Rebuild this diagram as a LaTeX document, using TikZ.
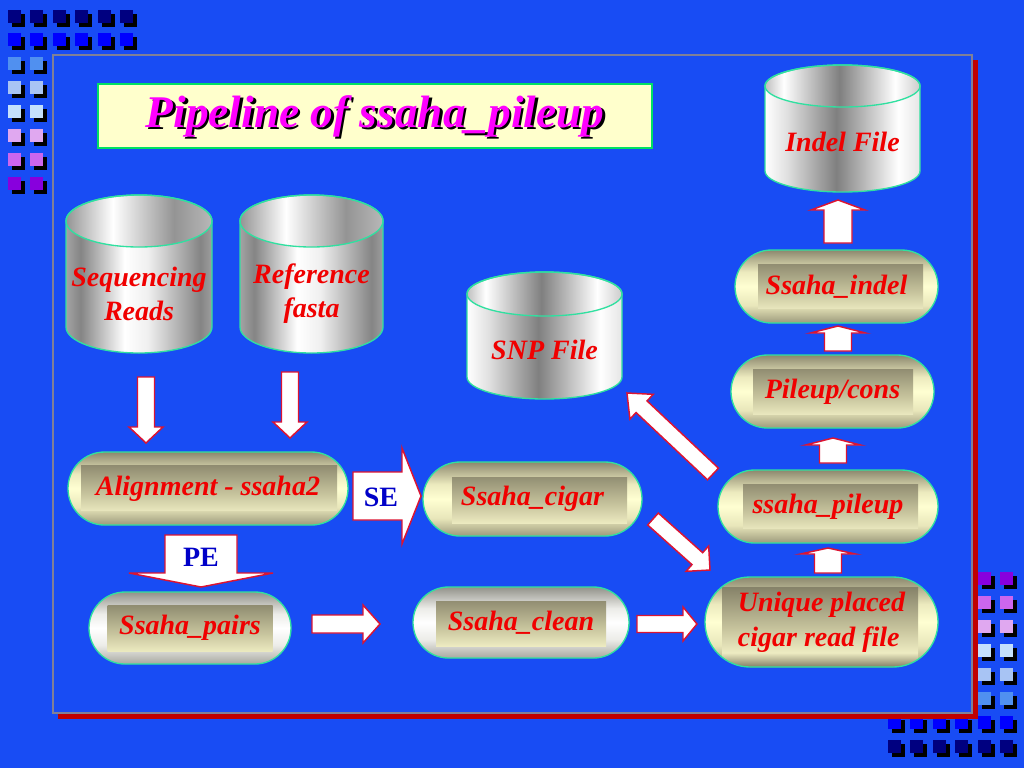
\documentclass[tikz,border=0pt]{standalone}
\usepackage{fontspec}
\setmainfont{Liberation Serif}
\usetikzlibrary{calc,shapes.misc}
\definecolor{bgblue}{RGB}{24,76,244}
\definecolor{panelred}{RGB}{192,0,0}
\definecolor{panelborder}{RGB}{128,128,150}
\definecolor{edgegreen}{RGB}{48,224,160}
\definecolor{titlegreen}{RGB}{0,224,100}
\definecolor{titlefill}{RGB}{255,255,204}
\definecolor{txtred}{RGB}{240,0,0}
\definecolor{txtblue}{RGB}{0,0,200}
\definecolor{titlemag}{RGB}{255,0,255}
\definecolor{arrowred}{RGB}{220,20,50}
\definecolor{sqnavy}{RGB}{0,0,128}
\definecolor{sqblue}{RGB}{0,0,255}
\definecolor{sqa}{RGB}{80,144,240}
\definecolor{sqb}{RGB}{168,196,244}
\definecolor{sqc}{RGB}{196,224,252}
\definecolor{sqd}{RGB}{224,168,240}
\definecolor{sqe}{RGB}{204,102,238}
\definecolor{sqf}{RGB}{136,0,221}
% cylinder colours
\definecolor{cyla0}{gray}{0.64}
\definecolor{cyla1}{gray}{0.52}
\definecolor{cyla2}{gray}{0.62}
\definecolor{cyla3}{gray}{0.94}
\definecolor{cylb1}{gray}{0.88}
\definecolor{cylb2}{gray}{0.50}
\definecolor{cylb3}{gray}{0.90}
\definecolor{cylt1}{gray}{0.58}
\definecolor{cylt2}{gray}{0.58}
\definecolor{cylt3}{gray}{0.72}
\definecolor{cylt4}{gray}{0.75}
\definecolor{cylt5}{gray}{0.80}
% pill colours
\definecolor{poa}{RGB}{156,154,124}
\definecolor{pob}{RGB}{232,230,186}
\definecolor{poc}{RGB}{255,255,210}
\definecolor{pod}{RGB}{236,234,190}
\definecolor{poe}{RGB}{140,136,110}
\definecolor{pga}{RGB}{168,168,160}
\definecolor{pgb}{RGB}{236,236,232}
\definecolor{pge}{RGB}{146,146,138}
\definecolor{pia}{RGB}{130,126,102}
\definecolor{pib}{RGB}{238,236,194}
\definecolor{pic}{RGB}{200,197,158}
\definecolor{pid}{RGB}{118,114,92}
\pgfdeclarehorizontalshading{cylA}{100bp}{color(0bp)=(cyla0); color(25bp)=(cyla0); color(30bp)=(cyla1); color(45bp)=(white); color(53bp)=(cyla3); color(71bp)=(cyla1); color(75bp)=(cyla2); color(100bp)=(cyla2)}
\pgfdeclarehorizontalshading{cyltopA}{100bp}{color(0bp)=(cylt1); color(25bp)=(cylt1); color(41bp)=(white); color(62bp)=(cylt2); color(75bp)=(cylt3); color(100bp)=(cylt3)}
\pgfdeclarehorizontalshading{cylB}{100bp}{color(0bp)=(white); color(25bp)=(white); color(32bp)=(cylb1); color(48bp)=(cylb2); color(68bp)=(white); color(75bp)=(cylb3); color(100bp)=(cylb3)}
\pgfdeclarehorizontalshading{cyltopB}{100bp}{color(0bp)=(cylt4); color(25bp)=(cylt4); color(31bp)=(white); color(49bp)=(cylb2); color(67bp)=(white); color(75bp)=(cylt5); color(100bp)=(cylt5)}
\pgfdeclareverticalshading{pilloutC}{100bp}{color(0bp)=(poa); color(25bp)=(poa); color(37bp)=(pob); color(50bp)=(poc); color(60bp)=(pod); color(75bp)=(poe); color(100bp)=(poe)}
\pgfdeclareverticalshading{pilloutG}{100bp}{color(0bp)=(pga); color(25bp)=(pga); color(38bp)=(pgb); color(50bp)=(white); color(60bp)=(pgb); color(75bp)=(pge); color(100bp)=(pge)}
\pgfdeclareverticalshading{pillin}{100bp}{color(0bp)=(pia); color(25bp)=(pia); color(33bp)=(pib); color(46bp)=(pic); color(75bp)=(pid); color(100bp)=(pid)}

\newcommand\sqbox[3]{%
  \fill[black] ({#1+4},{-(#2)-4}) rectangle ++(13,-13);
  \fill[#3] ({#1},{-(#2)}) rectangle ++(13,-13);}

% name, cx, top-ellipse y, bottom-ellipse y, rx, ry, shading letter, text y, text
\newcommand\cyl[9]{%
  \shade[shading=cyl#7] (#2-#5,-#3) -- (#2-#5,-#4)
     arc[start angle=180,end angle=360,x radius=#5,y radius=#6] -- (#2+#5,-#3)
     arc[start angle=0,end angle=180,x radius=#5,y radius=#6] -- cycle;
  \shade[shading=cyltop#7] (#2,-#3) ellipse[x radius=#5,y radius=#6];
  \draw[cyledge] (#2-#5,-#3) -- (#2-#5,-#4)
     arc[start angle=180,end angle=360,x radius=#5,y radius=#6] -- (#2+#5,-#3)
     arc[start angle=0,end angle=180,x radius=#5,y radius=#6] -- cycle;
  \draw[cyledge] (#2,-#3) ellipse[x radius=#5,y radius=#6];
  \node[cyltext] (#1) at (#2,-#8) {#9};}

% from, to, shaft half width, head half width, head length (px)
\newcommand\barrow[5]{%
  \coordinate (bh) at ($(#2)!{#5*0.75pt}!(#1)$);
  \draw[blockarrow] ($(#1)!{#3*0.75pt}!90:(#2)$) -- ($(bh)!{#3*0.75pt}!90:(#2)$)
     -- ($(bh)!{#4*0.75pt}!90:(#2)$) -- (#2) -- ($(bh)!{#4*0.75pt}!-90:(#2)$)
     -- ($(bh)!{#3*0.75pt}!-90:(#2)$) -- ($(#1)!{#3*0.75pt}!-90:(#2)$) -- cycle;}

\tikzset{
  cyledge/.style={draw=edgegreen, line width=1pt},
  redtext/.style={text=txtred, font=\fontsize{21}{25.5}\selectfont\bfseries\itshape},
  cyltext/.style={redtext, align=center, inner sep=0pt},
  pillC/.style={rounded rectangle, draw=edgegreen, line width=1pt, shade, shading=pilloutC,
     inner sep=0pt, redtext, align=left},
  pillG/.style={pillC, shading=pilloutG},
  innerbar/.style n args={4}{path picture={\shade[shading=pillin]
     ($(path picture bounding box.center)+({(#3)-(#1)/2},{-(#4)-(#2)/2})$) rectangle ++(#1,#2);}},
  blockarrow/.style={fill=white, draw=arrowred, line width=1.1pt, line join=miter},
  bluelabel/.style={text=txtblue, font=\fontsize{21}{25}\selectfont\bfseries, inner sep=0pt},
  titlebox/.style={fill=titlefill, draw=titlegreen, line width=2.2pt, minimum width=415.5pt, minimum height=48pt},
  titletext/.style={font=\fontsize{34}{40}\selectfont\bfseries\itshape, inner sep=0pt},
}

\begin{document}
\begin{tikzpicture}[x=0.75pt,y=0.75pt]
\useasboundingbox (0,0) rectangle (1024,-768);
\fill[bgblue] (0,0) rectangle (1024,-768);

% decorative squares, top left
\foreach \i in {0,...,5} {\sqbox{8+22.4*\i}{10}{sqnavy}}
\foreach \i in {0,...,5} {\sqbox{8+22.4*\i}{33}{sqblue}}
\foreach \y/\c in {57/sqa,81/sqb,105/sqc,129/sqd,153/sqe,177/sqf} {
  \sqbox{8}{\y}{\c}\sqbox{30.4}{\y}{\c}}
% decorative squares, bottom right
\foreach \y/\c in {572/sqf,596/sqe,620/sqd,644/sqc,668/sqb,692/sqa} {
  \sqbox{978}{\y}{\c}\sqbox{1000.4}{\y}{\c}}
\foreach \i in {0,...,5} {\sqbox{888+22.4*\i}{716}{sqblue}}
\foreach \i in {0,...,5} {\sqbox{888+22.4*\i}{740}{sqnavy}}

% panel
\fill[panelred] (58,-60) rectangle (978,-719);
\fill[bgblue] (53,-55) rectangle (972,-713);
\draw[panelborder, line width=1.2pt] (53,-55) rectangle (972,-713);

% title
\node[titlebox] (titlebox) at (375,-116) {};
\node[titletext, text=black] (titleshadow) at (377.5,-118.5) {Pipeline of ssaha\_pileup};
\node[titletext, text=titlemag] (title) at (375,-116) {Pipeline of ssaha\_pileup};

% cylinders
\cyl{seq}{139}{221}{327}{73}{26}{A}{294}{Sequencing\\Reads}
\cyl{ref}{311.5}{221}{327}{71.5}{26}{A}{294}{Reference\\fasta}
\cyl{snp}{544.5}{294}{377}{77.5}{22}{B}{350}{SNP File}
\cyl{indelfile}{842.5}{86}{171}{77.5}{21}{B}{142}{Indel File}

% process pills
\node[pillC, minimum width=210pt, minimum height=54.75pt, innerbar={256}{45}{1}{-1}] (align) at (208,-488.5) {Alignment - ssaha2};
\node[pillG, minimum width=151.5pt, minimum height=54pt, innerbar={165}{46}{0}{0}] (pairs) at (190,-628) {Ssaha\_pairs};
\node[pillC, minimum width=164.25pt, minimum height=55.5pt, innerbar={175}{46}{7}{1}] (cigar) at (532.5,-499) {Ssaha\_cigar};
\node[pillG, minimum width=162pt, minimum height=53.25pt, innerbar={170}{45}{0}{1}] (clean) at (521,-622.5) {Ssaha\_clean};
\node[pillC, minimum width=174.75pt, minimum height=67.5pt, innerbar={196}{80}{-1.5}{5}, font=\fontsize{21}{26.25}\selectfont\bfseries\itshape] (unique) at (821.5,-622) {Unique placed\\cigar read file};
\node[pillC, minimum width=165pt, minimum height=54.75pt, innerbar={175}{44}{2.5}{-0.5}] (pileup) at (828,-506.5) {ssaha\_pileup};
\node[pillC, minimum width=152.25pt, minimum height=54.75pt, innerbar={160}{45}{0.5}{0}] (cons) at (832.5,-391.5) {Pileup/cons};
\node[pillC, minimum width=152.25pt, minimum height=54.75pt, innerbar={165}{44}{4}{-0.5}] (indel) at (836.5,-286.5) {Ssaha\_indel};

% connector end points
\coordinate (seqA) at (146,-377);   \coordinate (seqB) at (146,-443);
\coordinate (refA) at (290,-372);   \coordinate (refB) at (290,-438);
\coordinate (seA) at (353,-496);    \coordinate (seB) at (421,-496);
\coordinate (peA) at (201,-535);    \coordinate (peB) at (201,-587);
\coordinate (paA) at (312,-624);    \coordinate (paB) at (380,-624);
\coordinate (clA) at (637,-624);    \coordinate (clB) at (697,-624);
\coordinate (ciA) at (653,-519);    \coordinate (ciB) at (710,-570);
\coordinate (snA) at (713,-474);    \coordinate (snB) at (627,-393);
\coordinate (unA) at (828,-573);    \coordinate (unB) at (828,-548);
\coordinate (piA) at (833,-463);    \coordinate (piB) at (833,-438);
\coordinate (coA) at (838,-351);    \coordinate (coB) at (838,-326);
\coordinate (inA) at (838,-243);    \coordinate (inB) at (838,-200);

% block arrows
\barrow{seqA}{seqB}{8.5}{17}{16}
\barrow{refA}{refB}{8.5}{17}{16}
\barrow{seA}{seB}{24}{48}{19}
\barrow{peA}{peB}{36}{72}{14}
\barrow{paA}{paB}{9}{19}{17}
\barrow{clA}{clB}{8.5}{17}{14}
\barrow{ciA}{ciB}{8}{17}{17}
\barrow{snA}{snB}{8}{17}{20}
\barrow{unA}{unB}{13.5}{27.5}{6}
\barrow{piA}{piB}{13.5}{27.5}{7}
\barrow{coA}{coB}{13.5}{27.5}{7}
\barrow{inA}{inB}{14}{27}{10}

\node[bluelabel] (se) at (381,-497) {SE};
\node[bluelabel] (pe) at (201,-557) {PE};
\end{tikzpicture}
\end{document}
